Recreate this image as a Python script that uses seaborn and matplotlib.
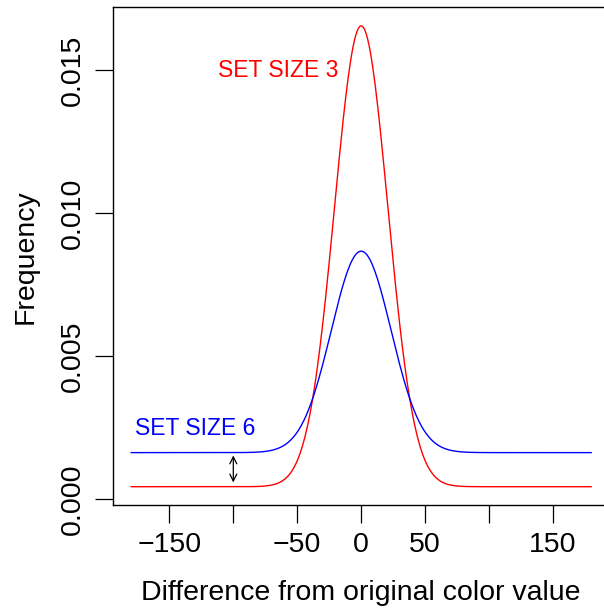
import numpy as np
import pandas as pd
import matplotlib
matplotlib.use("Agg")
import matplotlib.pyplot as plt
import seaborn as sns

# Model parameters (mixture of a Gaussian and a uniform guess)
set_sizes = ["SET SIZE 3", "SET SIZE 6"]
guess_rates = [0.158, 0.587]
sds = [20.85, 23.4]
colors = ["#ff0000", "#0000ff"]
x_ticks = [-150, -100, -50, 0, 50, 100, 150]
x_tick_labels = ["\u2212150", "", "\u221250", "0", "50", "", "150"]
y_ticks = [0.000, 0.005, 0.010, 0.015]
y_tick_labels = ["0.000", "0.005", "0.010", "0.015"]
label_pos = [(-65, 0.0150), (-130, 0.00247)]

x = np.arange(-180, 181, 1.0)
rows = []
for name, g, sd in zip(set_sizes, guess_rates, sds):
    y = (1 - g) * np.exp(-x**2 / (2 * sd**2)) / (sd * np.sqrt(2 * np.pi)) + g / 360.0
    rows.append(pd.DataFrame({"diff": x, "freq": y, "set": name}))
df = pd.concat(rows, ignore_index=True)

sns.set_style("white")
plt.rcParams["font.family"] = ["Liberation Sans", "DejaVu Sans"]

fig = plt.figure(figsize=(6.04, 6.13), dpi=100)
ax = fig.add_axes([0.1866, 0.1762, 0.8228, 0.8116])

sns.lineplot(data=df, x="diff", y="freq", hue="set", palette=dict(zip(set_sizes, colors)),
             linewidth=1.0, legend=False, ax=ax)

ax.set_xlim(-194.3, 194.3)
ax.set_ylim(-0.0002, 0.01719)

ax.set_xticks(x_ticks)
ax.set_xticklabels(x_tick_labels, fontsize=20.5)
ax.set_yticks(y_ticks)
ax.set_yticklabels(y_tick_labels, fontsize=20.5, rotation=90, va="center")
ax.tick_params(axis="both", direction="out", length=12.7, width=0.9, color="black",
               bottom=True, left=True, labelcolor="black")
ax.tick_params(axis="x", pad=7)
ax.tick_params(axis="y", pad=6.5)

for s in ax.spines.values():
    s.set_visible(True)
    s.set_color("black")
    s.set_linewidth(1.0)

ax.set_xlabel("Difference from original color value", fontsize=20.5, color="black")
ax.set_ylabel("Frequency", fontsize=20.5, color="black")
ax.xaxis.label.set_va("center")
ax.yaxis.label.set_va("center")
ax.xaxis.set_label_coords(0.5, -0.1765)
ax.yaxis.set_label_coords(-0.1745, 0.5)

for name, c, (px, py) in zip(set_sizes, colors, label_pos):
    ax.text(px, py, name, color=c, fontsize=16.5, ha="center", va="center")

base_red = guess_rates[0] / 360.0
base_blue = guess_rates[1] / 360.0
ax.annotate("", xy=(-100, base_red + 0.00015), xytext=(-100, base_blue - 0.0001),
            arrowprops=dict(arrowstyle="<->,head_length=0.5,head_width=0.25",
                            color="black", lw=0.9, shrinkA=0, shrinkB=0))

fig.savefig("out.png", dpi=100)
